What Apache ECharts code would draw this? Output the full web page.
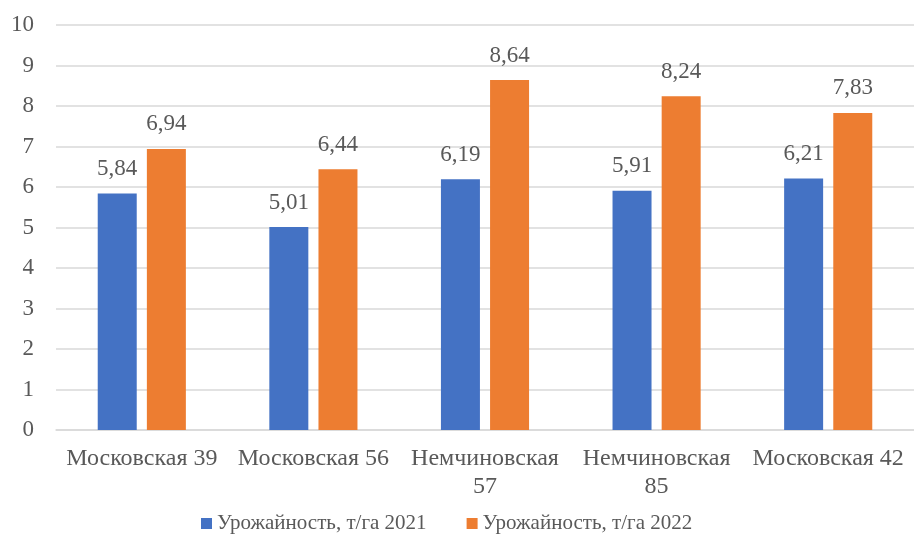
<!DOCTYPE html>
<html>
<head>
<meta charset="utf-8">
<script src="https://cdn.jsdelivr.net/npm/echarts@6/dist/echarts.min.js"></script>
<style>
  html, body { margin: 0; padding: 0; background: #fff; }
  #chart { width: 914px; height: 547px; }
  .font-warm { position: absolute; left: -9999px; top: 0; font: 22px "Liberation Serif"; }
</style>
</head>
<body>
<span class="font-warm">Урожайность, т/га Московская Немчиновская 0123456789,</span>
<div id="chart"></div>
<script>
// Сорта и урожайность по годам
const categories = ['Московская 39', 'Московская 56', 'Немчиновская\n57', 'Немчиновская\n85', 'Московская 42'];
const yield2021 = [5.84, 5.01, 6.19, 5.91, 6.21];
const yield2022 = [6.94, 6.44, 8.64, 8.24, 7.83];
const seriesNames = ['Урожайность, т/га 2021', 'Урожайность, т/га 2022'];
const yTicks = { min: 0, max: 10, interval: 1 };

const FONT = '"Liberation Serif", "DejaVu Serif", serif';
const TEXT = '#595959';

const commaFmt = p => p.value.toFixed(2).replace('.', ',');

function draw() {
  const chart = echarts.init(document.getElementById('chart'), null, { renderer: 'canvas' });
  const barLabel = { show: true, position: 'top', distance: 13, fontFamily: FONT, fontSize: 23, color: TEXT, formatter: commaFmt };
  chart.setOption({
    animation: false,
    textStyle: { fontFamily: FONT, color: TEXT },
    grid: { left: 56, top: 25, width: 871, height: 405, containLabel: false },
    legend: {
      bottom: 8,
      left: 196,
      itemWidth: 11,
      itemHeight: 11,
      itemGap: 40,
      icon: 'rect',
      textStyle: { fontFamily: FONT, fontSize: 21, color: TEXT },
      data: seriesNames
    },
    xAxis: {
      type: 'category',
      data: categories,
      axisLine: { lineStyle: { color: '#D9D9D9', width: 1.5 } },
      axisTick: { show: false },
      axisLabel: { fontFamily: FONT, fontSize: 24, color: TEXT, margin: 15, lineHeight: 28, interval: 0 }
    },
    yAxis: {
      type: 'value',
      min: yTicks.min,
      max: yTicks.max,
      interval: yTicks.interval,
      axisLine: { show: false },
      axisTick: { show: false },
      splitLine: { lineStyle: { color: '#D9D9D9', width: 1.5 } },
      axisLabel: { fontFamily: FONT, fontSize: 23, color: TEXT, margin: 22 }
    },
    series: [
      {
        name: seriesNames[0],
        type: 'bar',
        data: yield2021,
        barWidth: 39,
        barGap: '26%',
        itemStyle: { color: '#4472C4' },
        label: barLabel
      },
      {
        name: seriesNames[1],
        type: 'bar',
        data: yield2022,
        barWidth: 39,
        barGap: '26%',
        itemStyle: { color: '#ED7D31' },
        label: barLabel
      }
    ]
  });
}

// Make sure the serif face is loaded before the canvas measures text
let drawn = false;
const once = () => { if (!drawn) { drawn = true; draw(); } };
if (document.fonts && document.fonts.load) {
  document.fonts.load('22px "Liberation Serif"', 'Московская 39').then(once, once);
  setTimeout(once, 1500);
} else {
  once();
}
</script>
</body>
</html>
